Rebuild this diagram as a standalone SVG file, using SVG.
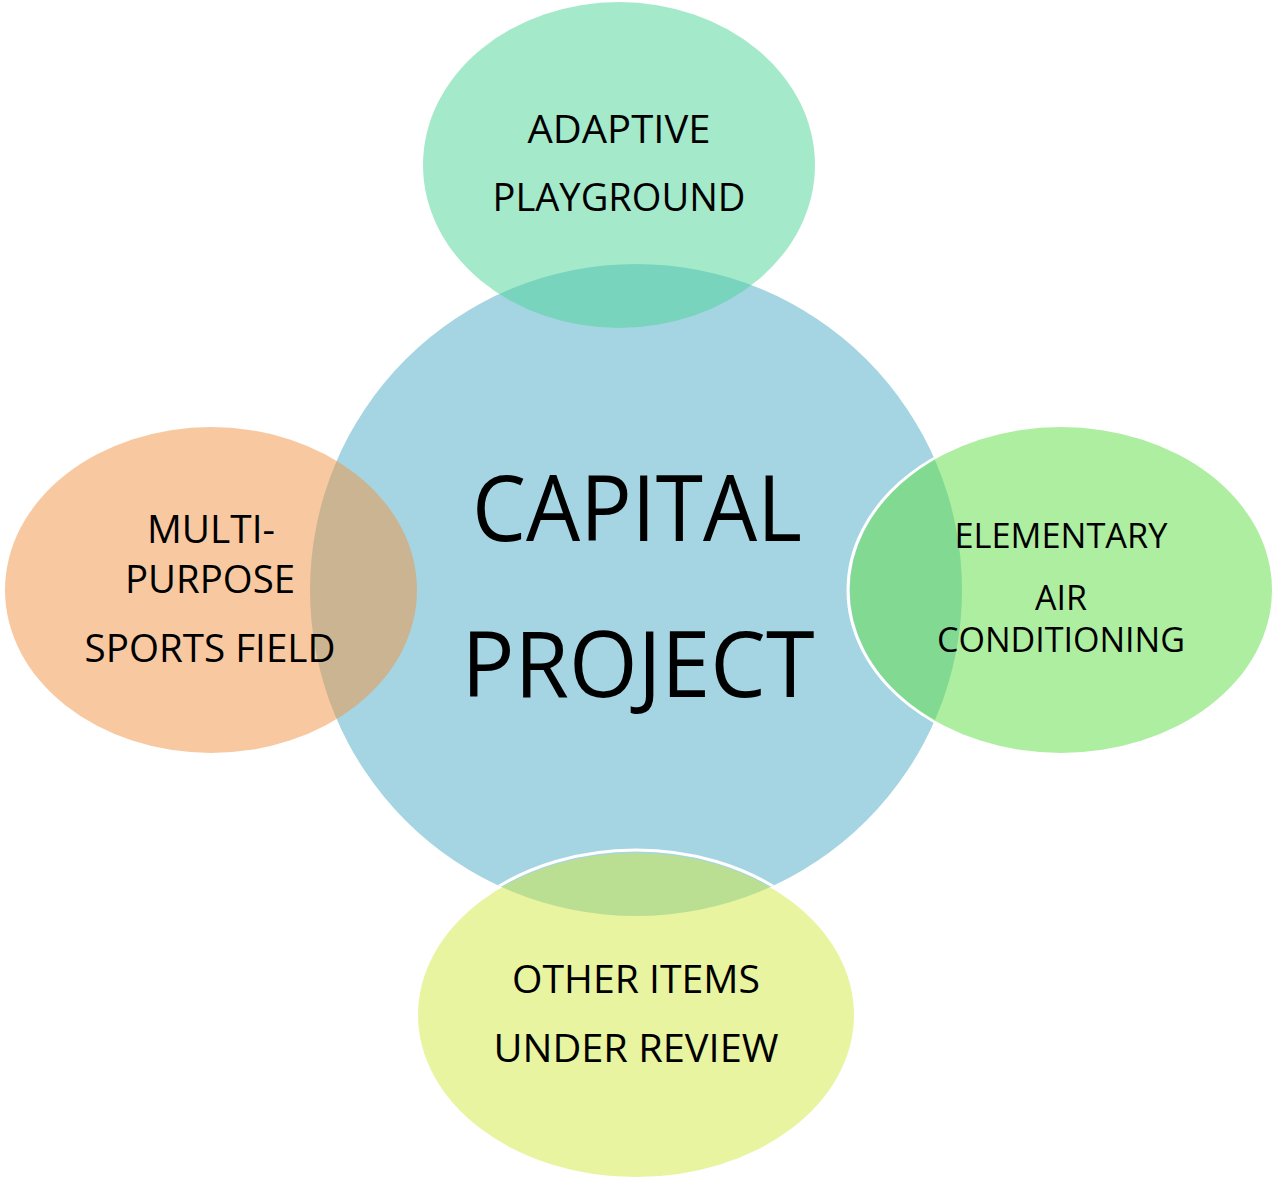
<svg xmlns="http://www.w3.org/2000/svg" width="1273" height="1177" viewBox="0 0 1273 1177">
<style>
text{font-family:"Open Sans","Noto Sans","Liberation Sans",sans-serif;fill:#000;text-anchor:middle}
.big{font-size:92px}
.lbl{font-size:39px}
.sm{font-size:35px}
.sat{fill-opacity:0.5}
.rim{fill:none;stroke:#fff;stroke-width:3}
</style>
<defs>
<clipPath id="hub"><circle cx="636" cy="590" r="326"/></clipPath>
</defs>
<rect width="1273" height="1177" fill="#fff"/>
<g id="center">
<circle cx="636" cy="590" r="326" fill="#A5D5E2"/>
<text class="big" x="637" y="541" textLength="330" lengthAdjust="spacingAndGlyphs">CAPITAL</text>
<text class="big" x="638" y="697" textLength="353" lengthAdjust="spacingAndGlyphs">PROJECT</text>
</g>
<g id="top">
<ellipse class="sat" cx="619" cy="165" rx="196" ry="163" fill="rgb(75,211,151)"/>
<text class="lbl" x="619" y="143" textLength="183" lengthAdjust="spacingAndGlyphs">ADAPTIVE</text>
<text class="lbl" x="619" y="211" textLength="253" lengthAdjust="spacingAndGlyphs">PLAYGROUND</text>
</g>
<g id="left">
<ellipse class="sat" cx="211" cy="590" rx="206" ry="163" fill="rgb(241,147,65)"/>
<text class="lbl" x="211" y="543" textLength="128" lengthAdjust="spacingAndGlyphs">MULTI-</text>
<text class="lbl" x="210" y="593" textLength="170" lengthAdjust="spacingAndGlyphs">PURPOSE</text>
<text class="lbl" x="210" y="662" textLength="251" lengthAdjust="spacingAndGlyphs">SPORTS FIELD</text>
</g>
<g id="right">
<ellipse class="rim" cx="1059" cy="590" rx="211" ry="163" clip-path="url(#hub)"/>
<ellipse class="sat" cx="1061" cy="590" rx="211" ry="163" fill="rgb(93,221,65)"/>
<text class="sm" x="1061" y="548" textLength="213" lengthAdjust="spacingAndGlyphs">ELEMENTARY</text>
<text class="sm" x="1061" y="610" textLength="52" lengthAdjust="spacingAndGlyphs">AIR</text>
<text class="sm" x="1061" y="652" textLength="248" lengthAdjust="spacingAndGlyphs">CONDITIONING</text>
</g>
<g id="bottom">
<ellipse class="rim" cx="636" cy="1013" rx="218" ry="163" clip-path="url(#hub)"/>
<ellipse class="sat" cx="636" cy="1015" rx="218" ry="162" fill="rgb(209,233,65)"/>
<text class="lbl" x="636" y="993" textLength="248" lengthAdjust="spacingAndGlyphs">OTHER ITEMS</text>
<text class="lbl" x="636" y="1062" textLength="285" lengthAdjust="spacingAndGlyphs">UNDER REVIEW</text>
</g>
<g id="connectors"/>
</svg>
